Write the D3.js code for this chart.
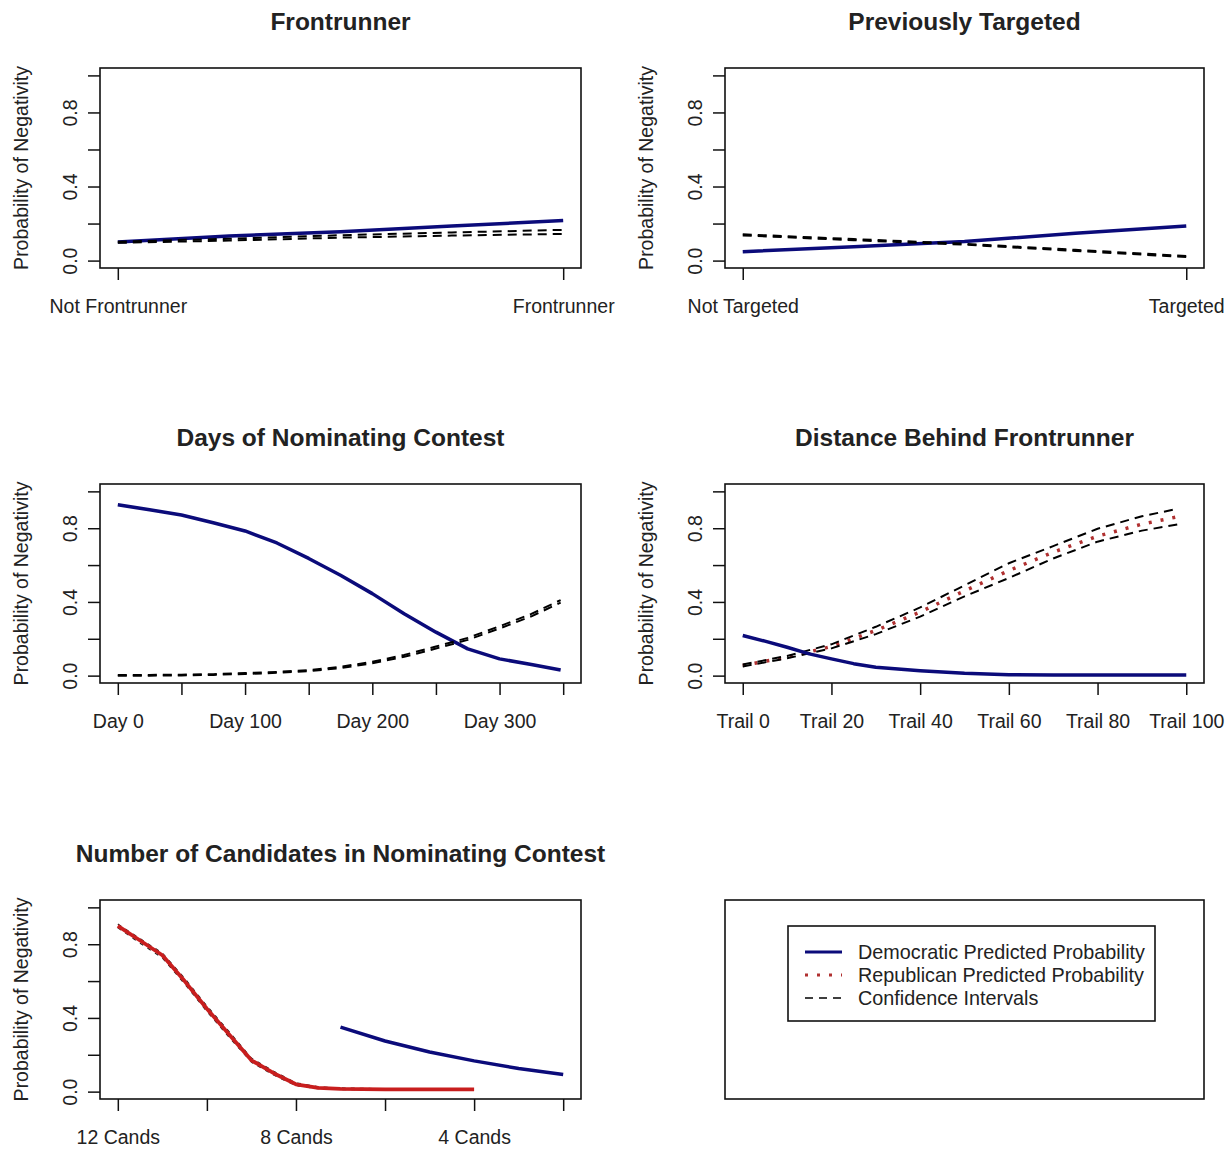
<!DOCTYPE html>
<html><head><meta charset="utf-8">
<script src="https://cdn.jsdelivr.net/npm/d3@7"></script>
<style>body{margin:0;background:#fff}svg{display:block;font-family:"Liberation Sans",Arial,sans-serif}</style>
</head><body>
<svg id="chart" width="1232" height="1149"></svg>
<script>
// ---------- data ----------
const yTicks = [0, 0.2, 0.4, 0.6, 0.8, 1.0];
const yTickLabels = ["0.0", "", "0.4", "", "0.8", ""];
const yLabel = "Probability of Negativity";

// Panel 1: Frontrunner
const frontTicks = [0, 1];
const frontTickLabels = ["Not Frontrunner", "Frontrunner"];
const frontX = [0, 0.25, 0.5, 0.75, 1];
const frontDem = [0.100, 0.133, 0.156, 0.187, 0.216];
const frontCIUpper = [0.102, 0.118, 0.137, 0.152, 0.166];
const frontCILower = [0.096, 0.108, 0.124, 0.135, 0.144];

// Panel 2: Previously Targeted
const targTicks = [0, 1];
const targTickLabels = ["Not Targeted", "Targeted"];
const targX = [0, 0.25, 0.5, 0.75, 1];
const targDem = [0.048, 0.075, 0.103, 0.147, 0.187];
const targCIUpper = [0.142, 0.116, 0.091, 0.058, 0.025];
const targCILower = [0.136, 0.110, 0.086, 0.052, 0.019];

// Panel 3: Days of Nominating Contest
const dayTicks = [0, 50, 100, 150, 200, 250, 300, 350];
const dayTickLabels = ["Day 0", "", "Day 100", "", "Day 200", "", "Day 300", ""];
const dayX = [0, 25, 50, 75, 100, 125, 150, 175, 200, 225, 250, 275, 300, 325, 348];
const dayDem = [0.927, 0.900, 0.872, 0.830, 0.785, 0.720, 0.636, 0.545, 0.445, 0.336, 0.236, 0.145, 0.091, 0.060, 0.031];
const dayCIUpper = [0.004, 0.004, 0.005, 0.008, 0.014, 0.020, 0.030, 0.048, 0.075, 0.112, 0.158, 0.205, 0.268, 0.335, 0.410];
const dayCILower = [0.000, 0.000, 0.001, 0.004, 0.009, 0.015, 0.024, 0.041, 0.067, 0.102, 0.147, 0.194, 0.256, 0.322, 0.396];

// Panel 4: Distance Behind Frontrunner
const trailTicks = [0, 20, 40, 60, 80, 100];
const trailTickLabels = ["Trail 0", "Trail 20", "Trail 40", "Trail 60", "Trail 80", "Trail 100"];
const trailDemX = [0, 5, 10, 15, 20, 25, 30, 40, 50, 60, 70, 80, 90, 100];
const trailDem = [0.218, 0.187, 0.154, 0.118, 0.091, 0.065, 0.045, 0.027, 0.013, 0.005, 0.004, 0.004, 0.004, 0.004];
const trailRepX = [0, 10, 20, 30, 40, 50, 60, 70, 80, 90, 98];
const trailRep = [0.055, 0.100, 0.158, 0.245, 0.345, 0.460, 0.570, 0.670, 0.757, 0.822, 0.862];
const trailCIUpper = [0.060, 0.107, 0.170, 0.265, 0.370, 0.490, 0.610, 0.703, 0.797, 0.865, 0.905];
const trailCILower = [0.050, 0.094, 0.148, 0.225, 0.320, 0.430, 0.530, 0.636, 0.727, 0.787, 0.820];

// Panel 5: Number of Candidates
const candTicks = [12, 10, 8, 6, 4, 2];
const candTickLabels = ["12 Cands", "", "8 Cands", "", "4 Cands", ""];
const candRepX = [12, 11.5, 11, 10.5, 10, 9.5, 9, 8.5, 8, 7.5, 7, 6, 5, 4];
const candRep = [0.900, 0.820, 0.740, 0.600, 0.450, 0.310, 0.170, 0.100, 0.040, 0.020, 0.015, 0.012, 0.012, 0.012];
const candCIUpper = [0.910, 0.830, 0.752, 0.615, 0.465, 0.325, 0.182, 0.110, 0.048, 0.026, 0.020, 0.016, 0.015, 0.015];
const candCILower = [0.890, 0.805, 0.726, 0.585, 0.435, 0.295, 0.160, 0.090, 0.032, 0.016, 0.011, 0.009, 0.009, 0.009];
const candDemX = [7, 6, 5, 4, 3, 2];
const candDem = [0.350, 0.275, 0.215, 0.167, 0.125, 0.093];

const legendLabels = ["Democratic Predicted Probability", "Republican Predicted Probability", "Confidence Intervals"];

// ---------- styles ----------
const DEM = "#0b0b7a", REP_DOT = "#b03030", REP_SOLID = "#c81e1e", CI = "#000";
const styles = {
  dem:   {stroke: DEM, width: 3.5, dash: null},
  repDot:{stroke: REP_DOT, width: 3.5, dash: "3,9"},
  repSolid:{stroke: REP_SOLID, width: 3.8, dash: null},
  ci:    {stroke: CI, width: 2, dash: "9,6"},
  ciThin:{stroke: "#222", width: 1.2, dash: "4,5"}
};

const svg = d3.select("#chart");
const cols = [{x0: 100, x1: 581}, {x0: 725, x1: 1204}];
const rows = [{y0: 68, y1: 268}, {y0: 484, y1: 683}, {y0: 900, y1: 1099}];
const AXIS_FONT = 19.5;

function panel(col, row, title, xDom, ticks, tickLabels, series) {
  const b = {x0: cols[col].x0, x1: cols[col].x1, y0: rows[row].y0, y1: rows[row].y1};
  const span = xDom[1] - xDom[0];
  const x = d3.scaleLinear().domain([xDom[0] - 0.04 * span, xDom[1] + 0.04 * span]).range([b.x0, b.x1]);
  const y = d3.scaleLinear().domain([-0.04, 1.04]).range([b.y1, b.y0]);
  const g = svg.append("g");

  // series
  const line = d3.line().x(d => x(d[0])).y(d => y(d[1]));
  series.forEach(s => {
    const st = styles[s.style];
    g.append("path").datum(s.xs.map((v, i) => [v, s.ys[i]]))
      .attr("d", line).attr("fill", "none")
      .attr("stroke", st.stroke).attr("stroke-width", st.width)
      .attr("stroke-dasharray", st.dash)
      .attr("stroke-linejoin", "round");
  });

  // box
  g.append("rect").attr("x", b.x0).attr("y", b.y0).attr("width", b.x1 - b.x0).attr("height", b.y1 - b.y0)
    .attr("fill", "none").attr("stroke", "#111").attr("stroke-width", 1.6);

  // y axis
  const ya = g.append("g").attr("transform", `translate(${b.x0},0)`)
    .call(d3.axisLeft(y).tickValues(yTicks).tickSize(12).tickFormat((d, i) => yTickLabels[i]));
  ya.select(".domain").remove();
  ya.selectAll(".tick line").attr("stroke", "#111").attr("stroke-width", 1.5);
  ya.selectAll(".tick text").attr("transform", "rotate(-90)").attr("x", 0).attr("y", -23).attr("dy", 0)
    .attr("text-anchor", "middle").attr("font-size", AXIS_FONT).attr("fill", "#222")
    .attr("font-family", "Liberation Sans, Arial, sans-serif");

  // x axis
  const xa = g.append("g").attr("transform", `translate(0,${b.y1})`)
    .call(d3.axisBottom(x).tickValues(ticks).tickSize(12).tickFormat((d, i) => tickLabels[i]));
  xa.select(".domain").remove();
  xa.selectAll(".tick line").attr("stroke", "#111").attr("stroke-width", 1.5);
  xa.selectAll(".tick text").attr("y", 45).attr("dy", 0).attr("font-size", AXIS_FONT).attr("fill", "#222")
    .attr("font-family", "Liberation Sans, Arial, sans-serif");

  // y label
  g.append("text").attr("transform", `translate(${b.x0 - 72},${(b.y0 + b.y1) / 2}) rotate(-90)`)
    .attr("text-anchor", "middle").attr("font-size", AXIS_FONT).attr("fill", "#222").text(yLabel);

  // title
  g.append("text").attr("x", (b.x0 + b.x1) / 2).attr("y", b.y0 - 38)
    .attr("text-anchor", "middle").attr("font-size", 24.5).attr("font-weight", "bold").attr("fill", "#222").text(title);
}

panel(0, 0, "Frontrunner", [0, 1], frontTicks, frontTickLabels, [
  {xs: frontX, ys: frontDem, style: "dem"},
  {xs: frontX, ys: frontCIUpper, style: "ci"},
  {xs: frontX, ys: frontCILower, style: "ci"}
]);
panel(1, 0, "Previously Targeted", [0, 1], targTicks, targTickLabels, [
  {xs: targX, ys: targDem, style: "dem"},
  {xs: targX, ys: targCIUpper, style: "ci"},
  {xs: targX, ys: targCILower, style: "ci"}
]);
panel(0, 1, "Days of Nominating Contest", [0, 350], dayTicks, dayTickLabels, [
  {xs: dayX, ys: dayDem, style: "dem"},
  {xs: dayX, ys: dayCIUpper, style: "ci"},
  {xs: dayX, ys: dayCILower, style: "ci"}
]);
panel(1, 1, "Distance Behind Frontrunner", [0, 100], trailTicks, trailTickLabels, [
  {xs: trailRepX, ys: trailRep, style: "repDot"},
  {xs: trailRepX, ys: trailCIUpper, style: "ci"},
  {xs: trailRepX, ys: trailCILower, style: "ci"},
  {xs: trailDemX, ys: trailDem, style: "dem"}
]);
panel(0, 2, "Number of Candidates in Nominating Contest", [12, 2], candTicks, candTickLabels, [
  {xs: candRepX, ys: candCIUpper, style: "ciThin"},
  {xs: candRepX, ys: candCILower, style: "ciThin"},
  {xs: candRepX, ys: candRep, style: "repSolid"},
  {xs: candDemX, ys: candDem, style: "dem"}
]);

// legend panel
(function () {
  const b = {x0: cols[1].x0, x1: cols[1].x1, y0: rows[2].y0, y1: rows[2].y1};
  const g = svg.append("g");
  g.append("rect").attr("x", b.x0).attr("y", b.y0).attr("width", b.x1 - b.x0).attr("height", b.y1 - b.y0)
    .attr("fill", "none").attr("stroke", "#111").attr("stroke-width", 1.6);
  const lx = b.x0 + 63, ly = b.y0 + 26;
  g.append("rect").attr("x", lx).attr("y", ly).attr("width", 367).attr("height", 95)
    .attr("fill", "none").attr("stroke", "#111").attr("stroke-width", 1.6);
  const keys = ["dem", "repDot", "ci"];
  legendLabels.forEach((lab, i) => {
    const cy = ly + 26 + i * 23;
    const st = styles[keys[i]];
    g.append("line").attr("x1", lx + 17).attr("x2", lx + 54).attr("y1", cy).attr("y2", cy)
      .attr("stroke", st.stroke).attr("stroke-width", keys[i] === "ci" ? 1.6 : 3)
      .attr("stroke-dasharray", keys[i] === "ci" ? "8,6" : (keys[i] === "repDot" ? "3,9" : null));
    g.append("text").attr("x", lx + 70).attr("y", cy + 7).attr("font-size", 19.8).attr("fill", "#222").text(lab);
  });
})();
</script>
</body></html>
